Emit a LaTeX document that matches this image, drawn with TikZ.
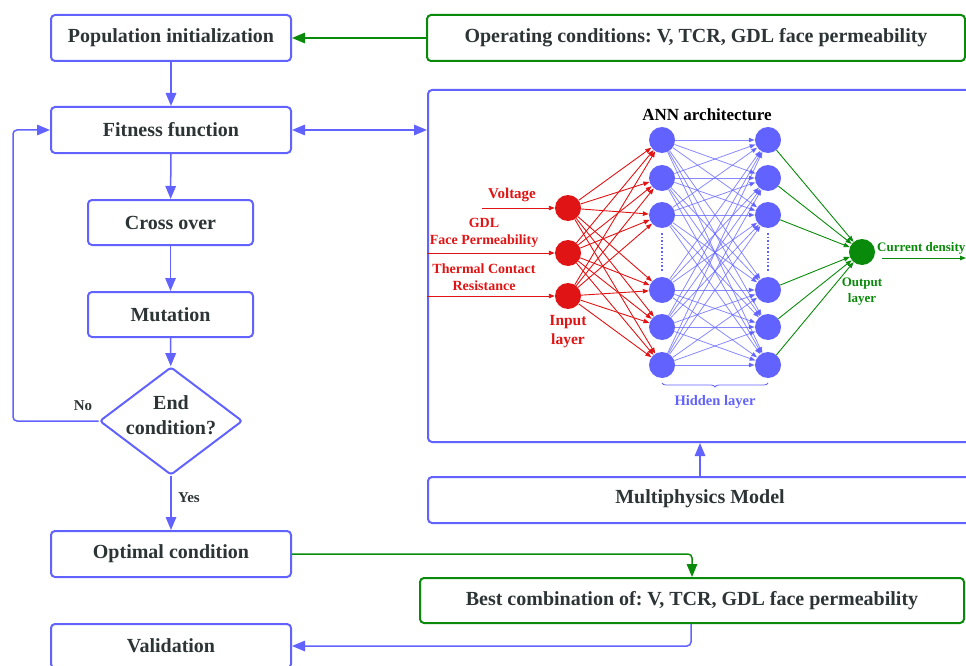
\documentclass[tikz,border=0pt]{standalone}
\usepackage{fontspec}
\setmainfont{Liberation Serif}
\usetikzlibrary{arrows.meta,shapes.geometric,decorations.pathreplacing}
\definecolor{fb}{HTML}{6262FF}
\definecolor{fg}{HTML}{0A8A0A}
\definecolor{fr}{HTML}{E01414}
\definecolor{ft}{HTML}{2D3436}
\frenchspacing
\begin{document}
\begin{tikzpicture}[x=1pt,y=-1pt,
  box/.style={draw=fb, line width=2pt, rounded corners=4pt, text=ft,
    font=\fontsize{20}{24}\selectfont\bfseries, inner sep=0pt, minimum height=46},
  gbox/.style={box, draw=fg},
  arr/.style={draw=fb, line width=1.5pt, -{Triangle[length=13pt,width=10.5pt]}},
  garr/.style={draw=fg, line width=1.5pt, -{Triangle[length=13pt,width=10.5pt]}},
  lbl/.style={text=ft, font=\fontsize{15}{17}\selectfont\bfseries},
  hn/.style={circle, fill=fb, minimum size=26, inner sep=0pt},
  rn/.style={circle, fill=fr, minimum size=26, inner sep=0pt},
  gn/.style={circle, fill=fg, minimum size=26, inner sep=0pt},
  rline/.style={draw=fr, line width=0.9pt, -{Triangle[length=6pt,width=4.5pt]}},
  bline/.style={draw=fb, draw opacity=0.75, line width=0.8pt, -{Triangle[length=6pt,width=4.5pt]}},
  gline/.style={draw=fg, line width=0.9pt, -{Triangle[length=6pt,width=4.5pt]}},
  rtxt/.style={text=fr, font=\fontsize{14}{17}\selectfont\bfseries, align=center, inner sep=0pt},
]
\useasboundingbox (0,0) rectangle (966,666);
\clip (0,0) rectangle (966,666);

% left column
\node[box, minimum width=240] (pop) at (171,38) {Population initialization};
\node[box, minimum width=240] (fit) at (171,130) {Fitness function};
\node[box, minimum width=165, minimum height=45] (cross) at (170.5,222.5) {Cross over};
\node[box, minimum width=165, minimum height=45] (mut) at (170.5,314.5) {Mutation};
\node[diamond, draw=fb, line width=2pt, rounded corners=3pt, minimum width=143, minimum height=108,
  inner sep=0pt] (endc) at (171,421) {};
\node[text=ft, align=center, font=\fontsize{20}{25}\selectfont\bfseries, inner sep=0pt] (endt) at (171,415) {End\\condition?};
\node[box, minimum width=240] (opt) at (171,554) {Optimal condition};
\node[box, minimum width=240, minimum height=44] (val) at (171,646) {Validation};

\draw[arr] (pop) -- (fit);
\draw[arr] (fit) -- (cross);
\draw[arr] (cross) -- (mut);
\draw[arr] (mut) -- (endc);
\draw[arr] (endc) -- node[lbl, right, pos=0.4, xshift=3pt] {Yes} (opt);
\coordinate (lp) at (13,421);
\draw[arr, rounded corners=4pt] (endc.west) -- (lp) -- (lp |- fit.west) -- (fit.west);
\node[lbl] (no) at (83,406) {No};

% right column
\node[gbox, minimum width=538] (oper) at (696,38) {Operating conditions: V, TCR, GDL face permeability};
\node[draw=fb, line width=2pt, rounded corners=4pt, minimum width=560, minimum height=352,
  anchor=north west, inner sep=0pt] (ann) at (427,89) {};
\node[draw=fb, line width=2pt, rounded corners=4pt, minimum width=560, minimum height=46,
  anchor=north west, inner sep=0pt] (mm) at (427,476) {};
\node[text=ft, font=\fontsize{20}{24}\selectfont\bfseries] (mmt) at (700,499) {Multiphysics Model};
\node[gbox, minimum width=544, minimum height=45] (best) at (692,600.5) {Best combination of: V, TCR, GDL face permeability};

\draw[garr] (oper) -- (pop);
\draw[draw=fb, line width=1.5pt, {Triangle[length=13pt,width=10.5pt]}-{Triangle[length=13pt,width=10.5pt]}]
  (fit.east) -- (fit.east -| ann.west);
\draw[arr] (mm.north -| mmt) -- (ann.south -| mmt);
\coordinate (gc) at (692,554);
\draw[garr, rounded corners=4pt] (opt.east) -- (gc) -- (best.north -| gc);
\coordinate (bc) at (691,646);
\draw[arr, rounded corners=4pt] (best.south -| bc) -- (bc) -- (val.east);

% ANN
\node[font=\fontsize{17}{20}\selectfont\bfseries] (title) at (707,115) {ANN architecture};
\foreach \i/\y in {1/140,2/178,3/215,4/290,5/327,6/365} {
  \node[hn] (a\i) at (662,\y) {};
  \node[hn] (b\i) at (768,\y) {};
}
\foreach \i/\y in {1/208,2/253,3/296} \node[rn] (in\i) at (568,\y) {};
\node[gn] (out) at (862,252) {};

\foreach \i in {1,...,6} \foreach \j in {1,...,6} \draw[bline] (a\i) -- (b\j);
\foreach \i in {1,2,3} \foreach \j in {1,...,6} \draw[rline] (in\i) -- (a\j);
\foreach \i in {1,...,6} \draw[gline] (b\i) -- (out);

\draw[fb, line width=1.6pt, dotted] (662,233) -- (662,272);
\draw[fb, line width=1.6pt, dotted] (768,233) -- (768,272);

\coordinate (vs) at (482,208);
\draw[rline] (vs) -- (in1);
\draw[rline] (in2 -| ann.west) -- (in2);
\draw[rline] (in3 -| ann.west) -- (in3);
\node[rtxt, font=\fontsize{15}{17}\selectfont\bfseries] (volt) at (512,195) {Voltage};
\node[rtxt] (gdl) at (484,233) {GDL\\Face Permeability};
\node[rtxt] (tcr) at (484,277.5) {Thermal Contact\\Resistance};
\node[text=fr, font=\fontsize{15.5}{19}\selectfont\bfseries, align=center, inner sep=0pt] (inl) at (568,331.5) {Input\\layer};
\node[text=fg, font=\fontsize{13}{15.5}\selectfont\bfseries, align=center, inner sep=0pt] (outl) at (862,291.5) {Output\\layer};
\node[text=fg, font=\fontsize{13}{15}\selectfont\bfseries, anchor=west, inner sep=0pt] (cd) at (877,248) {Current density};
\coordinate (cs) at (882,258);
\coordinate (ce) at (966,258);
\draw[gline] (cs) -- (ce);

\draw[fb, line width=0.8pt, decorate, decoration={brace, mirror, amplitude=4pt}] (662,383) -- (768,383);
\node[text=fb, font=\fontsize{14.5}{17}\selectfont\bfseries] (hid) at (715,402) {Hidden layer};
\end{tikzpicture}
\end{document}
